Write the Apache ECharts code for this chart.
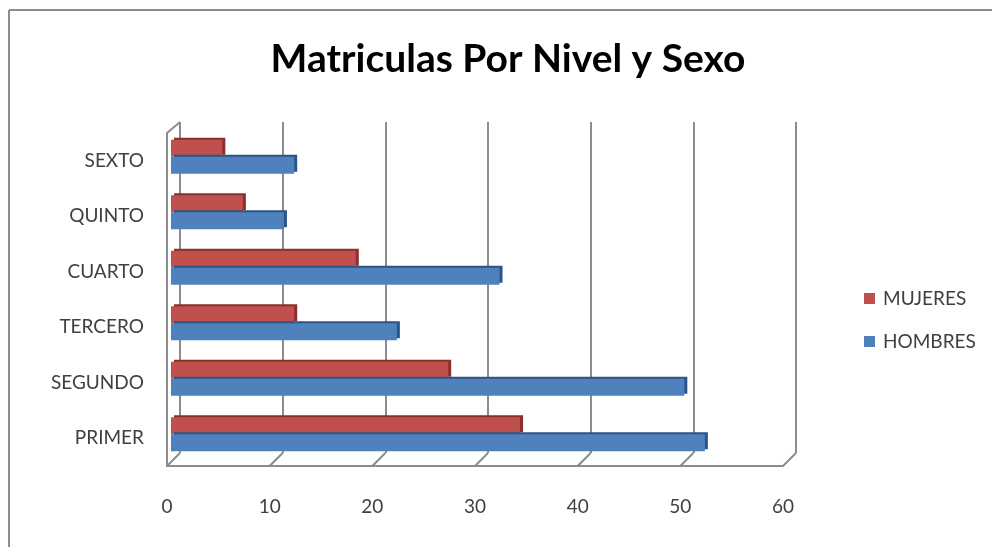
<!DOCTYPE html>
<html><head><meta charset="utf-8">
<script src="https://cdn.jsdelivr.net/npm/echarts@6/dist/echarts.min.js"></script>
<style>html,body{margin:0;padding:0;background:#fff}#c{width:992px;height:547px}</style>
</head><body><div id="c"></div>
<script>
const categories = ['PRIMER','SEGUNDO','TERCERO','CUARTO','QUINTO','SEXTO'];
const mujeres = [34, 27, 12, 18, 7, 5];
const hombres = [52, 50, 22, 32, 11, 12];
const xTicks = [0, 10, 20, 30, 40, 50, 60];
const FONT = 'Lato, "Open Sans", sans-serif';
const chart = echarts.init(document.getElementById('c'));
const G = {left:167, right:209, top:133, bottom:81};
const D = 13;
const xMin = xTicks[0], xMax = xTicks[xTicks.length-1];
chart.setOption({
  animation:false,
  backgroundColor:'#fff',
  title:{text:'Matriculas Por Nivel y Sexo', left:503, top:35, textAlign:'center',
    textStyle:{fontFamily:FONT, fontSize:39, fontWeight:'bold', color:'#000'}},
  legend:{orient:'vertical', left:859, top:284, itemWidth:11, itemHeight:11, itemGap:24,
    icon:'rect', data:['MUJERES','HOMBRES'],
    textStyle:{fontFamily:FONT, fontSize:19, color:'#404040', padding:[0,0,0,3]}},
  grid:[
    {left:G.left, right:G.right, top:G.top, bottom:G.bottom},
    {left:G.left+D, right:G.right-D, top:G.top-D+2, bottom:G.bottom+D},
    {left:G.left+4, right:G.right-4, top:G.top-4, bottom:G.bottom+4}
  ],
  xAxis:[
    {gridIndex:0, type:'value', min:xMin, max:xMax, interval:10,
     axisLine:{show:true, lineStyle:{color:'#8c8c8c', width:2}}, axisTick:{show:false},
     splitLine:{show:false},
     axisLabel:{margin:31, fontFamily:FONT, fontSize:19, color:'#404040'}},
    {gridIndex:1, type:'value', min:xMin, max:xMax, interval:10,
     axisLine:{show:false}, axisTick:{show:false}, axisLabel:{show:false},
     splitLine:{show:true, lineStyle:{color:'#8c8c8c', width:2}}},
    {gridIndex:2, type:'value', min:xMin, max:xMax, interval:10, show:false, splitLine:{show:false}}
  ],
  yAxis:[
    {gridIndex:0, type:'category', data:categories,
     axisLine:{show:true, lineStyle:{color:'#8c8c8c', width:2}}, axisTick:{show:false},
     axisLabel:{margin:23, fontFamily:FONT, fontSize:19, color:'#404040'}},
    {gridIndex:1, type:'category', data:categories, show:false},
    {gridIndex:2, type:'category', data:categories, show:false}
  ],
  series:[
    {name:'MUJERES', type:'bar', xAxisIndex:2, yAxisIndex:2, data:mujeres, barWidth:17, barGap:'0%',
     itemStyle:{color:'#C0504D', shadowColor:'#8a2f2c', shadowOffsetX:3, shadowOffsetY:-2, shadowBlur:0}},
    {name:'HOMBRES', type:'bar', xAxisIndex:2, yAxisIndex:2, data:hombres, barWidth:17, barGap:'0%',
     itemStyle:{color:'#4F81BD', shadowColor:'#2c5586', shadowOffsetX:3, shadowOffsetY:-2, shadowBlur:0}}
  ]
});
const els = [];
const line = (x1,y1,x2,y2)=>({type:'line', shape:{x1,y1,x2,y2}, style:{stroke:'#8c8c8c', lineWidth:2}, silent:true, z:-1});
const h = chart.getHeight();
const yb = h - G.bottom, yt = G.top;
xTicks.forEach(v=>{
  const xf = chart.convertToPixel({xAxisIndex:0}, v);
  const xb = chart.convertToPixel({xAxisIndex:1}, v);
  els.push(line(xf, yb, xb, yb - D));
});
const xb0 = chart.convertToPixel({xAxisIndex:1}, 0);
const xf0 = chart.convertToPixel({xAxisIndex:0}, 0);
els.push(line(xf0, yt, xb0, yt - D + 2));
els.push(line(xb0, yt - D + 2, xb0, yb - D));
els.push({type:'line', shape:{x1:9, y1:10, x2:992, y2:10}, style:{stroke:'#8c8c8c', lineWidth:2}, silent:true});
els.push({type:'line', shape:{x1:9, y1:10, x2:9, y2:547}, style:{stroke:'#8c8c8c', lineWidth:2}, silent:true});
chart.setOption({graphic:els});
</script></body></html>
